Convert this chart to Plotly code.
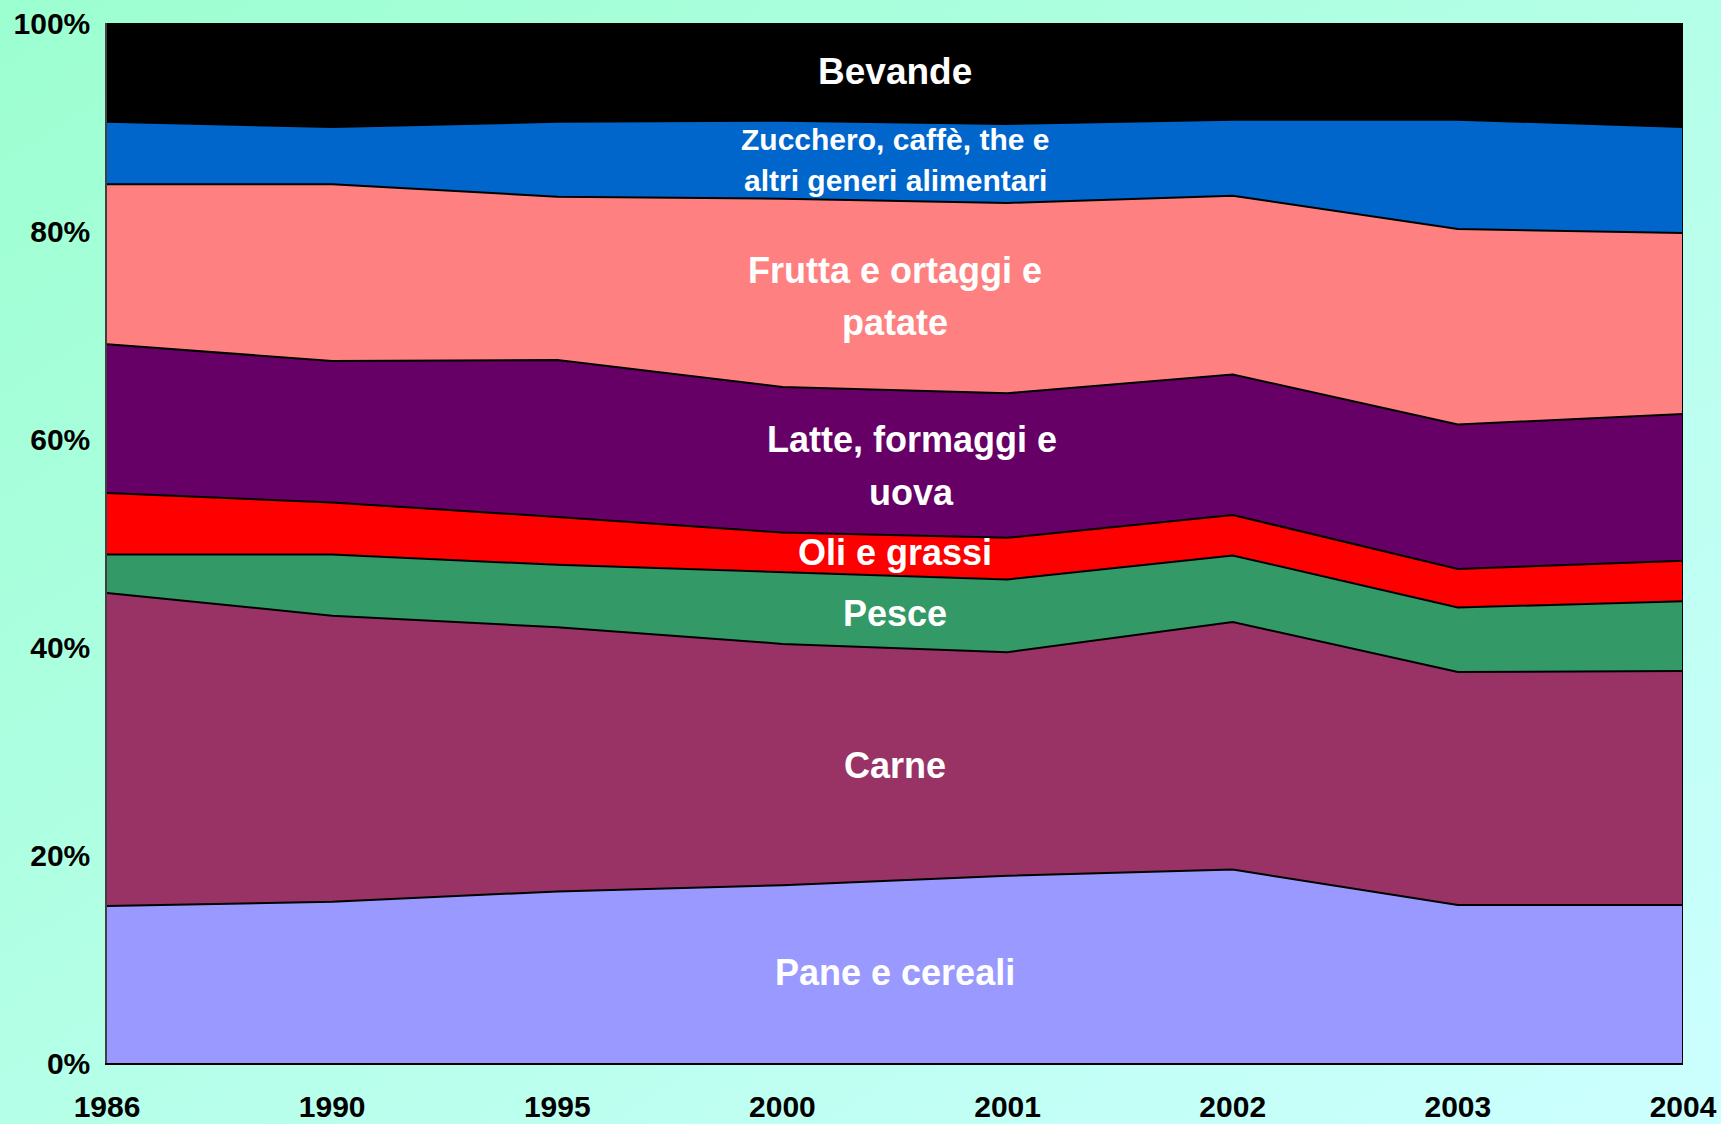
import base64
import plotly.graph_objects as go

years = ["1986", "1990", "1995", "2000", "2001", "2002", "2003", "2004"]
y_ticks = [0, 20, 40, 60, 80, 100]
y_tick_labels = ["0%", "20%", "40%", "60%", "80%", "100%"]

pane_cereali = [15.1, 15.5, 16.5, 17.1, 18.0, 18.6, 15.2, 15.2]
carne = [30.1, 27.5, 25.4, 23.2, 21.5, 23.8, 22.4, 22.5]
pesce = [3.7, 5.9, 6.0, 6.9, 7.0, 6.4, 6.2, 6.7]
oli_grassi = [5.9, 5.0, 4.6, 3.8, 4.0, 3.9, 3.7, 3.9]
latte_formaggi = [14.3, 13.6, 15.1, 14.0, 13.9, 13.5, 13.9, 14.1]
frutta_ortaggi = [15.4, 17.0, 15.7, 18.1, 18.3, 17.2, 18.8, 17.4]
zucchero_caffe = [6.0, 5.5, 7.2, 7.5, 7.6, 7.3, 10.5, 10.2]
bevande = [9.5, 10.0, 9.5, 9.4, 9.7, 9.3, 9.3, 10.0]

series = [
    ("Pane e cereali", pane_cereali, "#9999FF"),
    ("Carne", carne, "#993366"),
    ("Pesce", pesce, "#339966"),
    ("Oli e grassi", oli_grassi, "#FF0000"),
    ("Latte, formaggi e uova", latte_formaggi, "#660066"),
    ("Frutta e ortaggi e patate", frutta_ortaggi, "#FF8080"),
    ("Zucchero, caffè, the e altri generi alimentari", zucchero_caffe, "#0066CC"),
    ("Bevande", bevande, "#000000"),
]

# label lines: (text, x index position, y percent, font size)
labels = [
    ("Bevande", 3.5, 95.3, 37),
    ("Zucchero, caffè, the e", 3.5, 88.8, 30),
    ("altri generi alimentari", 3.5, 84.9, 30),
    ("Frutta e ortaggi e", 3.5, 76.25, 36),
    ("patate", 3.5, 71.25, 36),
    ("Latte, formaggi e", 3.575, 60.0, 36),
    ("uova", 3.575, 54.9, 36),
    ("Oli e grassi", 3.5, 49.1, 36),
    ("Pesce", 3.5, 43.2, 36),
    ("Carne", 3.5, 28.65, 36),
    ("Pane e cereali", 3.5, 8.75, 36),
]

xs = list(range(len(years)))
FONT = "Liberation Sans, Arial, sans-serif"

fig = go.Figure()
for name, vals, color in series:
    fig.add_trace(go.Scatter(
        x=xs, y=vals, name=name, mode="lines", stackgroup="one",
        fillcolor=color, line=dict(color="black", width=2),
        hoverinfo="x+y+name",
    ))

for text, x, y, size in labels:
    fig.add_annotation(x=x, y=y, xref="x", yref="y", text=text, showarrow=False,
                       font=dict(family=FONT, size=size, color="white", weight="bold"),
                       xanchor="center", yanchor="middle")

# right border of the plot area
fig.add_shape(type="line", xref="x", yref="y", x0=7, x1=7, y0=0, y1=100,
              line=dict(color="black", width=2))

svg = ('<svg xmlns="http://www.w3.org/2000/svg" width="1721" height="1124">'
       '<defs><linearGradient id="g" x1="0" y1="0" x2="1" y2="1">'
       '<stop offset="0" stop-color="#9CFFD0"/><stop offset="1" stop-color="#CCFFFF"/>'
       '</linearGradient></defs><rect width="1721" height="1124" fill="url(#g)"/></svg>')
uri = "data:image/svg+xml;base64," + base64.b64encode(svg.encode()).decode()

L, R, T, B = 107, 38, 23, 61
W, H = 1721, 1124
pw, ph = W - L - R, H - T - B
fig.add_layout_image(source=uri, xref="paper", yref="paper",
                     x=-L / pw, y=1 + T / ph, sizex=W / pw, sizey=H / ph,
                     xanchor="left", yanchor="top", sizing="stretch", layer="below")

fig.update_layout(
    width=W, height=H,
    margin=dict(l=L, r=R, t=T, b=B, pad=0, autoexpand=False),
    paper_bgcolor="#B4FFE8", plot_bgcolor="rgba(0,0,0,0)",
    showlegend=False,
    font=dict(family=FONT, color="black"),
)
fig.update_xaxes(range=[0, 7], tickvals=xs, ticktext=years, showgrid=False, zeroline=False,
                 showline=True, linecolor="black", linewidth=2, automargin=False,
                 ticks="outside", ticklen=16, tickcolor="rgba(0,0,0,0)",
                 tickfont=dict(family=FONT, size=30, color="black", weight="bold"))
fig.update_yaxes(range=[0, 100], tickvals=y_ticks, ticktext=y_tick_labels,
                 showgrid=False, zeroline=False, showline=True, linecolor="#404040", linewidth=1.5,
                 ticks="outside", ticklen=9, tickcolor="rgba(0,0,0,0)", automargin=False,
                 tickfont=dict(family=FONT, size=30, color="black", weight="bold"))

fig.write_html(
    "out.html",
    config={"displayModeBar": False},
    post_script="document.body.style.margin='0px';document.body.style.overflow='hidden';"
                "document.documentElement.style.overflow='hidden';",
)
